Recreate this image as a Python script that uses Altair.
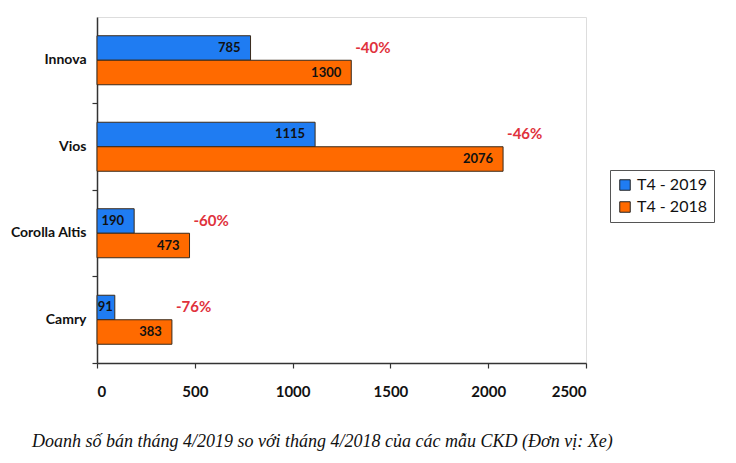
import altair as alt
import pandas as pd

models = ["Innova", "Vios", "Corolla Altis", "Camry"]
v2019 = [785, 1115, 190, 91]
v2018 = [1300, 2076, 473, 383]
changes = ["-40%", "-46%", "-60%", "-76%"]
series = ["T4 - 2019", "T4 - 2018"]
x_ticks = [0, 500, 1000, 1500, 2000, 2500]
caption = "Doanh số bán tháng 4/2019 so với tháng 4/2018 của các mẫu CKD (Đơn vị: Xe)"

rows = []
for m, a, b in zip(models, v2019, v2018):
    rows.append({"model": m, "series": series[0], "value": a})
    rows.append({"model": m, "series": series[1], "value": b})
df = pd.DataFrame(rows)

pct = pd.DataFrame({"model": models, "pct": changes, "value": v2018,
                    "series": [series[0]] * len(models)})

font = "Lato"

y_enc = alt.Y("model:N", sort=models, title=None,
              scale=alt.Scale(paddingInner=0, paddingOuter=0),
              axis=alt.Axis(bandPosition=1, labelFont=font,
                            labelFontWeight="bold", labelFontSize=14,
                            labelColor="#111", labelPadding=6, tickSize=5,
                            domainColor="#333", tickColor="#333",
                            domainWidth=1.5, tickWidth=1.2))
x_enc = alt.X("value:Q", title=None,
              scale=alt.Scale(domain=[0, 2500], nice=False),
              axis=alt.Axis(values=x_ticks, format="d", labelFont=font,
                            labelFontWeight="bold", labelFontSize=15,
                            labelColor="#111", labelPadding=16,
                            tickSize=5, grid=False, domainColor="#333",
                            tickColor="#333", domainWidth=1.5, tickWidth=1.2))
yoff = alt.YOffset("series:N", sort=series,
                   scale=alt.Scale(domain=series, paddingInner=0, paddingOuter=0.765))

base = alt.Chart(df)
bars = base.mark_bar(stroke="#3a2a1a", strokeWidth=1).encode(
    y=y_enc, x=x_enc, yOffset=yoff,
    color=alt.Color("series:N", sort=series,
                    scale=alt.Scale(domain=series, range=["#1f7cf2", "#ff6a00"]),
                    legend=alt.Legend(title=None, orient="none", legendX=513,
                                      legendY=153, labelFont=font, labelFontSize=16,
                                      labelColor="#111", symbolType="square",
                                      symbolSize=110, symbolStrokeColor="#222",
                                      symbolStrokeWidth=1, strokeColor="#555",
                                      padding=7, rowPadding=6, labelOffset=4,
                                      fillColor="white")))
labels = base.transform_filter("datum.value >= 150").mark_text(
    align="right", dx=-10, font=font, fontWeight="bold",
    fontSize=13, color="#111").encode(
    y=alt.Y("model:N", sort=models), x="value:Q", yOffset=yoff, text="value:Q")
labels_small = base.transform_filter("datum.value < 150").mark_text(
    align="right", dx=-2, font=font, fontWeight="bold",
    fontSize=13, color="#111").encode(
    y=alt.Y("model:N", sort=models), x="value:Q", yOffset=yoff, text="value:Q")
pct_text = alt.Chart(pct).mark_text(align="left", dx=4, font=font, fontSize=15,
                                    color="#e0323c", fontWeight="bold").encode(
    y=alt.Y("model:N", sort=models), x="value:Q", yOffset=yoff, text="pct:N")

chart = alt.layer(bars, labels, labels_small, pct_text).properties(
    width=489, height=346,
    autosize=alt.AutoSizeParams(type="none"),
    padding={"left": 89, "top": 9, "right": 142, "bottom": 92},
    title=alt.TitleParams(text=caption, orient="bottom", anchor="start",
                          frame="group",
                          font="Liberation Serif", fontStyle="italic",
                          fontWeight="normal", fontSize=18, color="#111",
                          dx=-65, offset=34),
).configure_view(stroke=None).configure(background="white")

chart.save("out.html", embed_options={"renderer": "svg", "actions": False})
